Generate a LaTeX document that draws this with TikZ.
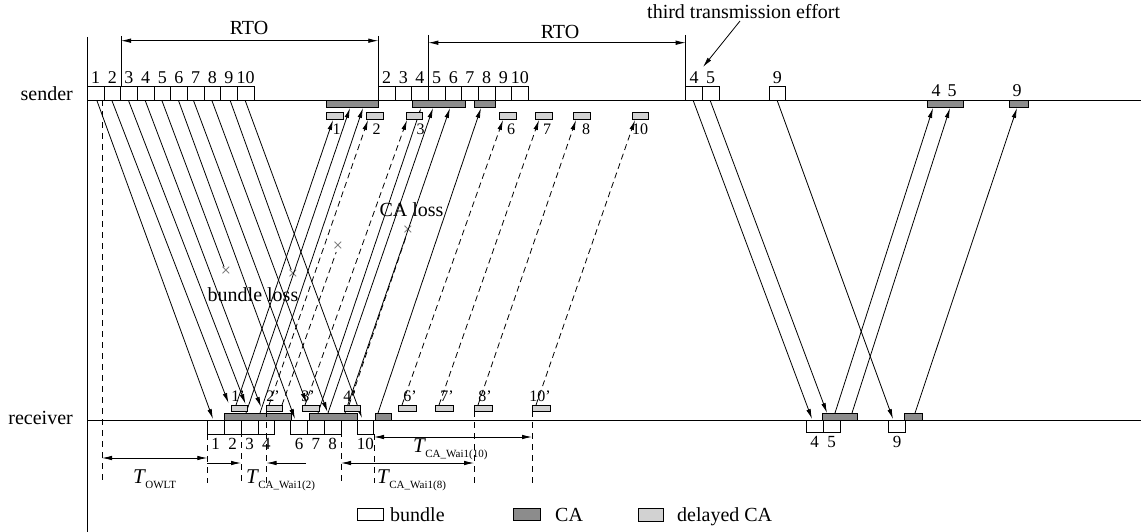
\documentclass[tikz,border=0pt]{standalone}
\usepackage{fontspec}
\setmainfont{Liberation Serif}
\usetikzlibrary{arrows.meta}
\definecolor{cagray}{RGB}{140,140,140}
\definecolor{dcagray}{RGB}{210,210,210}
\definecolor{xgray}{RGB}{110,110,110}
\newcommand{\Tlab}[1]{{\fontsize{21}{22}\selectfont\itshape T}\kern0.5pt\raisebox{-5pt}{\fontsize{11}{12}\selectfont #1}}
\begin{document}
\begin{tikzpicture}[x=1pt,y=-1pt,
  ln/.style={line width=0.8pt},
  tipd/.style={-{Latex[length=10pt,width=4.5pt]}},
  arr/.style={ln,tipd},
  darr/.style={ln,tipd,dash pattern=on 6pt off 4pt},
  lost/.style={ln},
  dlost/.style={ln,dash pattern=on 6pt off 4pt},
  dbl/.style={ln,{Latex[length=10pt,width=4.5pt]}-{Latex[length=10pt,width=4.5pt]}},
  tdash/.style={line width=0.8pt,dash pattern=on 6pt off 5pt},
  bnd/.style={draw,line width=0.8pt,fill=white},
  cabar/.style={draw,line width=0.7pt,fill=cagray},
  dca/.style={draw,line width=0.7pt,fill=dcagray},
  xm/.style={inner sep=0pt,text=xgray,font=\fontsize{18}{18}\selectfont},
  num/.style={inner sep=0pt,anchor=base,font=\fontsize{18}{20}\selectfont},
  rnum/.style={inner sep=0pt,anchor=base,font=\fontsize{17}{20}\selectfont},
  snum/.style={inner sep=0pt,anchor=base,font=\fontsize{16}{18}\selectfont},
  txt/.style={inner sep=0pt,font=\fontsize{20}{22}\selectfont},
]
\useasboundingbox[fill=white] (0,0) rectangle (1141,532);

% axis and time lines
\coordinate (axT) at (87,37); \coordinate (axB) at (87,532);
\coordinate (sL) at (87,100); \coordinate (sR) at (1141,100);
\coordinate (rL) at (87,420); \coordinate (rR) at (1141,420);
\draw[ln] (axT) -- (axB);
\draw[ln] (sL) -- (sR);
\draw[ln] (rL) -- (rR);
\node[txt,anchor=base east] (snd) at (73,101) {sender};
\node[txt,anchor=base east] (rcv) at (73,424) {receiver};

% RTO markers
\coordinate (r1a) at (121,36); \coordinate (r1b) at (121,100);
\coordinate (r1c) at (378.3,36); \coordinate (r1d) at (378.3,100);
\coordinate (r1l) at (121,40.7); \coordinate (r1r) at (378.3,40.7);
\draw[ln] (r1a) -- (r1b); \draw[ln] (r1c) -- (r1d);
\draw[dbl] (r1l) -- (r1r);
\node[txt,anchor=base] (rto1) at (249,34.3) {RTO};
\coordinate (r2a) at (428.3,35); \coordinate (r2b) at (428.3,100);
\coordinate (r2c) at (685.7,35); \coordinate (r2d) at (685.7,100);
\coordinate (r2l) at (428.3,42.7); \coordinate (r2r) at (685.7,42.7);
\draw[ln] (r2a) -- (r2b); \draw[ln] (r2c) -- (r2d);
\draw[dbl] (r2l) -- (r2r);
\node[txt,anchor=base] (rto2) at (560,38.3) {RTO};

% third transmission effort
\node[txt,anchor=base west] (tte) at (647,18.5) {third transmission effort};
\coordinate (tteA) at (740,21); \coordinate (tteB) at (703,67);
\draw[arr] (tteA) -- (tteB);

% crosses
\foreach \nm/\x/\y in {x1/226/272,x2/293/275,x3/338/247,x4/408/231}
  \node[xm] (\nm) at (\x,\y) {×};

% bundles sender -> receiver
\foreach \nm/\ax/\ay/\bx/\by in {
  b1/96.7/100/213/419, b2/111.7/100/228.5/403, b3/128.3/100/245.5/404,
  b4/145/100/261/407, b6/178.3/100/295/419, b7/193.3/100/306.5/403,
  b8/211.7/100/327.5/412, b10/245/100/362/418,
  t4/693/100/812/419, t5/710/100/827/413, t9/777/100/893/419}
{ \coordinate (\nm s) at (\ax,\ay); \coordinate (\nm e) at (\bx,\by);
  \draw[arr] (\nm s) -- (\nm e); }

% lost bundles
\coordinate (b5s) at (161.7,100); \coordinate (b9s) at (230,100);
\draw[lost] (b5s) -- (x1);
\draw[lost] (b9s) -- (x2);

% CA receiver -> sender
\foreach \nm/\ax/\ay/\bx/\by in {
  c1/236/405/333/120, c2/246/413/350/108, c3/260/413/363/108,
  c4/318/413/421/108, c5/328/413/433/108, c6/345/413/450/108,
  c7/378/413/481/108, c8/835/413/933/108, c9/852/413/950/108,
  c10/915/413/1017/108}
{ \coordinate (\nm s) at (\ax,\ay); \coordinate (\nm e) at (\bx,\by);
  \draw[arr] (\nm s) -- (\nm e); }

% delayed CA receiver -> sender
\foreach \nm/\ax/\ay/\bx/\by in {
  d2/269/405/368/120, d3/305/405/407/120, d6/402/405/503/120,
  d7/439/405/539/120, d8/478/405/576/120, d10/536/405/635/120}
{ \coordinate (\nm s) at (\ax,\ay); \coordinate (\nm e) at (\bx,\by);
  \draw[darr] (\nm s) -- (\nm e); }

% lost delayed CAs
\coordinate (l1s) at (282,405); \coordinate (l4s) at (349,405);
\draw[dlost] (l1s) -- (x3);
\draw[dlost] (l4s) -- (x4);

% sender bundle boxes
\foreach \n [count=\i from 0] in {1,...,10} {
  \draw[bnd] ({87.3+16.67*\i},86) rectangle +(16.67,14);
  \node[num] at ({87.3+16.67*(\i+0.5)},83.5) {\n}; }
\foreach \n [count=\i from 0] in {2,...,10} {
  \draw[bnd] ({378.3+16.67*\i},86) rectangle +(16.67,14);
  \node[num] at ({378.3+16.67*(\i+0.5)},83.5) {\n}; }
\draw[bnd] (685.7,86) rectangle +(16.67,14);
\draw[bnd] (702.4,86) rectangle +(16.67,14);
\draw[bnd] (769,86) rectangle +(16.7,14);
\node[num] at (694,83.5) {4};
\node[num] at (710.7,83.5) {5};
\node[num] at (777.3,83.5) {9};

% sender CA bars
\foreach \a/\b in {326.7/378.3, 412.7/465, 474/495, 927/963, 1009/1028}
  \draw[cabar] (\a,100) rectangle (\b,107.5);
\node[num] at (936,96.5) {4};
\node[num] at (952,96.5) {5};
\node[num] at (1017,96.5) {9};

% sender delayed CA boxes
\foreach \a/\b/\t/\lx in {326.7/343.3/1/336.7, 366/383/2/376.7, 406/422.7/3/420.7,
  499/516/6/511, 535/552/7/547, 573/590/8/586, 632/648/10/640} {
  \draw[dca] (\a,112) rectangle (\b,119);
  \node[snum] at (\lx,135) {\t}; }

% receiver bundle boxes
\foreach \a/\t in {207.3/1, 224.2/2, 241.1/3, 258/4, 290.7/6, 307.5/7, 324.3/8, 357/10} {
  \draw[bnd] (\a,420) rectangle +(16.85,14);
  \node[rnum] at (\a+8.4,449.5) {\t}; }
\foreach \a/\t in {806/4, 823/5, 888.5/9} {
  \draw[bnd] (\a,420) rectangle +(17,12);
  \node[rnum] at (\a+8.5,447) {\t}; }

% receiver CA bars
\foreach \a/\b in {224.3/291.7, 309/357.3, 375/391.7, 822.7/857.3, 904/922.7}
  \draw[cabar] (\a,413) rectangle (\b,420);

% receiver delayed CA boxes
\foreach \a/\b/\t/\lx in {231/247.7/1/238, 266/282.3/2/273, 302.3/319.3/3/308,
  344/360/4/350, 398/416/6/410, 435/453/7/447, 474/492/8/485, 532/550/10/540} {
  \draw[dca] (\a,405) rectangle (\b,411);
  \node[snum] at (\lx,401) {\t'}; }

% timing markers
\foreach \nm/\x/\ya in {v0/102/100, v1/207.3/434, v2/241/420, v3/266.5/411,
  v4/341/420, v5/374/434, v6/474/411, v7/532/411}
{ \coordinate (\nm a) at (\x,\ya); \coordinate (\nm b) at (\x,483);
  \draw[tdash] (\nm a) -- (\nm b); }

\coordinate (ow1) at (102,458); \coordinate (ow2) at (207.3,458);
\draw[dbl] (ow1) -- (ow2);
\coordinate (w2a) at (207.3,463); \coordinate (w2b) at (241,463);
\draw[arr] (w2a) -- (w2b);
\coordinate (w2c) at (306,463); \coordinate (w2d) at (266.5,463);
\draw[arr] (w2c) -- (w2d);
\coordinate (w8a) at (341,463); \coordinate (w8b) at (474,463);
\draw[dbl] (w8a) -- (w8b);
\coordinate (w10a) at (374,437); \coordinate (w10b) at (532,437);
\draw[dbl] (w10a) -- (w10b);

\node[inner sep=0pt,anchor=base west] (towlt) at (133,483) {\Tlab{OWLT}};
\node[inner sep=0pt,anchor=base west] (tw2) at (246,483) {\Tlab{CA\_Wai1(2)}};
\node[inner sep=0pt,anchor=base west] (tw8) at (377,483) {\Tlab{CA\_Wai1(8)}};
\node[inner sep=0pt,anchor=base west] (tw10) at (413,452) {\Tlab{CA\_Wai1(10)}};

% loss labels
\node[txt,anchor=base] (bl) at (253,301.7) {bundle loss};
\node[txt,anchor=base] (cl) at (411.5,216.7) {CA loss};

% legend
\draw[bnd] (357,508) rectangle (383,520);
\node[txt,anchor=base west] (lgb) at (390,521) {bundle};
\draw[cabar] (513,508) rectangle (540,520);
\node[txt,anchor=base west] (lgc) at (555,521) {CA};
\draw[dca] (638,508) rectangle (663,521);
\node[txt,anchor=base west] (lgd) at (677,521) {delayed CA};
\end{tikzpicture}
\end{document}
